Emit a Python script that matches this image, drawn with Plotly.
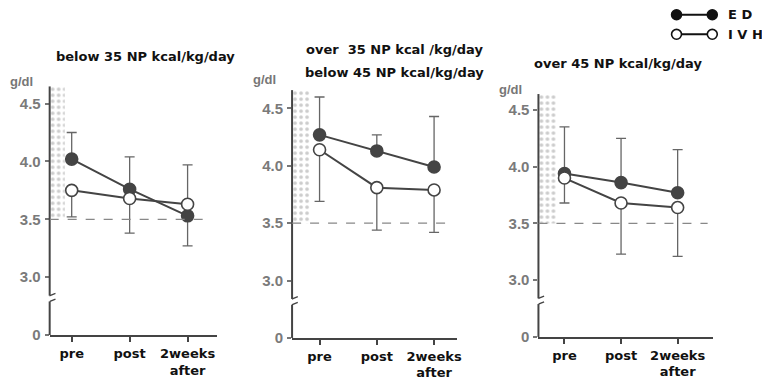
import plotly.graph_objects as go

W, H = 762, 392

categories = ["pre", "post", "2weeks<br>after"]
cat_pos = [0, 1, 2]

# panel titles, one list of lines per panel
titles = [
    ["below 35 NP kcal/kg/day"],
    ["over  35 NP kcal /kg/day", "below 45 NP kcal/kg/day"],
    ["over 45 NP kcal/kg/day"],
]

# ED (enteral diet) means and error-bar ends
ed_p1 = [4.02, 3.76, 3.53]
ed_p1_hi = [4.25, 4.04, 3.53]
ed_p1_lo = [4.02, 3.76, 3.27]
ed_p2 = [4.27, 4.13, 3.99]
ed_p2_hi = [4.60, 4.27, 4.43]
ed_p2_lo = [4.27, 4.13, 3.99]
ed_p3 = [3.94, 3.86, 3.77]
ed_p3_hi = [4.35, 4.25, 4.15]
ed_p3_lo = [3.94, 3.86, 3.77]

# IVH means and error-bar ends
ivh_p1 = [3.75, 3.68, 3.63]
ivh_p1_hi = [3.75, 3.68, 3.97]
ivh_p1_lo = [3.52, 3.38, 3.63]
ivh_p2 = [4.14, 3.81, 3.79]
ivh_p2_hi = [4.14, 3.81, 3.79]
ivh_p2_lo = [3.69, 3.44, 3.42]
ivh_p3 = [3.90, 3.68, 3.64]
ivh_p3_hi = [3.90, 3.68, 3.64]
ivh_p3_lo = [3.68, 3.23, 3.21]

y_tickvals = [2.5, 3.0, 3.5, 4.0, 4.5]
y_ticktext = ["0", "3.0", "3.5", "4.0", "4.5"]
normal_low = 3.5

# layout per panel (pixels)
panels = [
    dict(x0=50, x1=218, xr=[-0.38, 2.5], yb=342, yt=88, yr=[2.5, 4.65], shade=0.26, dash_end=2.3,
         title_x=146, title_y=[58], gdl_x=22, gdl_y=83),
    dict(x0=294, x1=460, xr=[-0.48, 2.4], yb=345, yt=92, yr=[2.5, 4.66], shade=0.33, dash_end=2.28,
         title_x=397, title_y=[51, 74], gdl_x=266, gdl_y=81),
    dict(x0=542, x1=718, xr=[-0.46, 2.63], yb=344, yt=96, yr=[2.5, 4.64], shade=0.32, dash_end=2.53,
         title_x=622, title_y=[65], gdl_x=514, gdl_y=91),
]

ed_all = [(ed_p1, ed_p1_hi, ed_p1_lo), (ed_p2, ed_p2_hi, ed_p2_lo), (ed_p3, ed_p3_hi, ed_p3_lo)]
ivh_all = [(ivh_p1, ivh_p1_hi, ivh_p1_lo), (ivh_p2, ivh_p2_hi, ivh_p2_lo), (ivh_p3, ivh_p3_hi, ivh_p3_lo)]

LINE = "#444444"
ERR = "#666666"
FONT = "DejaVu Sans"

fig = go.Figure()
shapes = []
annotations = []

for i, p in enumerate(panels):
    n = "" if i == 0 else str(i + 1)
    xa, ya = "x" + n, "y" + n
    # shaded normal range (stippled)
    fig.add_trace(go.Bar(
        x=[p["xr"][0] + p["shade"] / 2], y=[p["yr"][1] - normal_low], base=[normal_low],
        width=[p["shade"]], xaxis=xa, yaxis=ya, showlegend=False, hoverinfo="skip",
        marker=dict(color="white", line=dict(width=0),
                    pattern=dict(shape=".", fgcolor="#9a9a9a", bgcolor="white", size=6, solidity=0.3)),
    ))
    for name, (vals, hi, lo), filled in (("ED", ed_all[i], True), ("IVH", ivh_all[i], False)):
        plus = [h - v for h, v in zip(hi, vals)]
        minus = [v - l for v, l in zip(vals, lo)]
        fig.add_trace(go.Scatter(
            x=cat_pos, y=vals, mode="lines+markers", name=name, xaxis=xa, yaxis=ya,
            showlegend=False,
            line=dict(color=LINE, width=2),
            marker=dict(size=12, color=LINE if filled else "white", line=dict(color=LINE, width=1.6)),
            error_y=dict(type="data", symmetric=False, array=plus, arrayminus=minus,
                         color=ERR, thickness=1.3, width=5),
        ))
    fig.layout["xaxis" + n] = dict(
        domain=[p["x0"] / W, p["x1"] / W], range=p["xr"], anchor=ya,
        tickvals=cat_pos, ticktext=["<b>%s</b>" % c for c in categories],
        showline=True, linecolor=LINE, linewidth=2, ticks="outside", ticklen=5, tickcolor=LINE,
        tickwidth=1.5, showgrid=False, zeroline=False, fixedrange=True,
        tickfont=dict(family=FONT, size=13, color="#111"),
    )
    fig.layout["yaxis" + n] = dict(
        domain=[1 - p["yb"] / H, 1 - p["yt"] / H], range=p["yr"], anchor=xa,
        tickvals=y_tickvals, ticktext=["<b>%s</b>" % t for t in y_ticktext],
        showline=False, ticks="outside", ticklen=4, tickcolor="#777", tickwidth=1.5,
        showgrid=False, zeroline=False, fixedrange=True, ticklabelstandoff=1,
        tickfont=dict(family="Liberation Sans", size=15, color="#7a7a7a"),
    )
    # y axis line with break
    brk_lo, brk_hi = 2.79, 2.84
    shapes.append(dict(type="line", xref=xa + " domain", yref=ya, x0=0, x1=0,
                       y0=p["yr"][0], y1=brk_lo, line=dict(color=LINE, width=2)))
    shapes.append(dict(type="line", xref=xa + " domain", yref=ya, x0=0, x1=0,
                       y0=brk_hi, y1=p["yr"][1], line=dict(color=LINE, width=2)))
    for yb in (brk_lo, brk_hi):
        shapes.append(dict(type="line", xref=xa, yref=ya,
                           x0=p["xr"][0] - 0.1, x1=p["xr"][0] + 0.1,
                           y0=yb - 0.02, y1=yb + 0.02, line=dict(color=LINE, width=1.3)))
    # dashed normal-limit line
    shapes.append(dict(type="line", xref=xa, yref=ya, x0=p["xr"][0], x1=p["dash_end"],
                       y0=normal_low, y1=normal_low, line=dict(color="#888", width=1.2, dash="dash")))
    for line_txt, ty in zip(titles[i], p["title_y"]):
        annotations.append(dict(text="<b>%s</b>" % line_txt, xref="paper", yref="paper",
                                x=p["title_x"] / W, y=1 - ty / H, showarrow=False,
                                xanchor="center", yanchor="middle",
                                font=dict(family=FONT, size=13, color="#111")))
    annotations.append(dict(text="<b>g/dl</b>", xref="paper", yref="paper",
                            x=p["gdl_x"] / W, y=1 - p["gdl_y"] / H, showarrow=False,
                            xanchor="center", yanchor="middle",
                            font=dict(family="Liberation Sans", size=13, color="#777")))

# legend (top right)
legend_items = [("ED", True, 15), ("IVH", False, 35)]
for name, filled, ypix in legend_items:
    yv = 1 - ypix / H
    shapes.append(dict(type="line", xref="paper", yref="paper", x0=680 / W, x1=718 / W,
                       y0=yv, y1=yv, line=dict(color="#111", width=2)))
    for xp in (681, 717):
        shapes.append(dict(type="circle", xref="paper", yref="paper",
                           x0=(xp - 5) / W, x1=(xp + 5) / W, y0=yv - 5 / H, y1=yv + 5 / H,
                           fillcolor="#111" if filled else "white", line=dict(color="#111", width=1.6)))
    annotations.append(dict(text="<b>%s</b>" % " ".join(name), xref="paper", yref="paper",
                            x=731 / W, y=yv, xanchor="left", yanchor="middle", showarrow=False,
                            font=dict(family=FONT, size=13, color="#111")))

fig.update_layout(
    width=W, height=H, margin=dict(l=0, r=0, t=0, b=0),
    paper_bgcolor="white", plot_bgcolor="white",
    shapes=shapes, annotations=annotations, showlegend=False, barmode="overlay",
)

fig.write_html("out.html")
